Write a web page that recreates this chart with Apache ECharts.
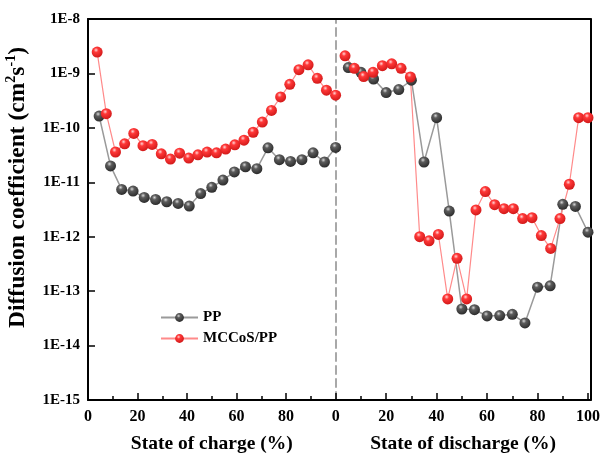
<!DOCTYPE html>
<html>
<head>
<meta charset="utf-8">
<script src="https://cdn.jsdelivr.net/npm/echarts@6/dist/echarts.min.js"></script>
<style>
html, body { margin: 0; padding: 0; background: #fff; }
#chart { width: 603px; height: 459px; }
</style>
</head>
<body>
<div id="chart"></div>
<script>
// Charge branch (state of charge, %)
const chargeMccosX = [3.7, 7.4, 11.1, 14.8, 18.5, 22.2, 25.9, 29.6, 33.3, 37.0, 40.7, 44.4, 48.1, 51.9,
  55.6, 59.3, 63.0, 66.7, 70.4, 74.1, 77.8, 81.5, 85.2, 88.9, 92.6, 96.3, 100];
const chargeMccosD = [2.47e-9, 1.82e-10, 3.6e-11, 5.1e-11, 7.9e-11, 4.7e-11, 4.96e-11, 3.34e-11, 2.67e-11,
  3.43e-11, 2.79e-11, 3.2e-11, 3.59e-11, 3.48e-11, 4.07e-11, 4.88e-11, 5.94e-11, 8.3e-11, 1.28e-10,
  2.09e-10, 3.7e-10, 6.3e-10, 1.17e-9, 1.44e-9, 8.15e-10, 4.92e-10, 3.98e-10];
const chargePpX = [4.5, 9.1, 13.6, 18.2, 22.7, 27.3, 31.8, 36.4, 40.9, 45.5, 50, 54.5, 59.1, 63.6,
  68.2, 72.7, 77.3, 81.8, 86.4, 90.9, 95.5, 100];
const chargePpD = [1.65e-10, 2.0e-11, 7.4e-12, 6.9e-12, 5.26e-12, 4.83e-12, 4.39e-12, 4.08e-12, 3.66e-12,
  6.2e-12, 8.1e-12, 1.1e-11, 1.55e-11, 1.93e-11, 1.78e-11, 4.3e-11, 2.6e-11, 2.42e-11, 2.6e-11,
  3.48e-11, 2.36e-11, 4.37e-11];

// Discharge branch (state of discharge, %)
const dischargeMccosX = [3.7, 7.4, 11.1, 14.8, 18.5, 22.2, 25.9, 29.6, 33.3, 37.0, 40.7, 44.4, 48.1, 51.9,
  55.6, 59.3, 63.0, 66.7, 70.4, 74.1, 77.8, 81.5, 85.2, 88.9, 92.6, 96.3, 100];
const dischargeMccosD = [2.11e-9, 1.24e-9, 8.74e-10, 1.05e-9, 1.39e-9, 1.5e-9, 1.24e-9, 8.6e-10, 1.0e-12,
  8.4e-13, 1.1e-12, 7.2e-14, 4.0e-13, 7.2e-14, 3.1e-12, 6.76e-12, 3.87e-12, 3.28e-12, 3.28e-12,
  2.15e-12, 2.24e-12, 1.05e-12, 6.1e-13, 2.15e-12, 9.2e-12, 1.54e-10, 1.54e-10];
const dischargePpX = [5, 10, 15, 20, 25, 30, 35, 40, 45, 50, 55, 60, 65, 70, 75, 80, 85, 90, 95, 100];
const dischargePpD = [1.28e-9, 1.05e-9, 7.9e-10, 4.45e-10, 5.06e-10, 7.5e-10, 2.36e-11, 1.54e-10, 2.96e-12,
  4.7e-14, 4.56e-14, 3.5e-14, 3.55e-14, 3.76e-14, 2.6e-14, 1.18e-13, 1.25e-13, 3.93e-12, 3.6e-12, 1.21e-12];

const seriesNames = ['PP', 'MCCoS/PP'];
const xTitles = ['State of charge (%)', 'State of discharge (%)'];

const FONT = "'Liberation Serif', 'Times New Roman', serif";
const pair = (xs, ys) => xs.map((x, i) => [x, ys[i]]);

// Shaded ball markers
const ballGray = { type: 'radial', x: 0.4, y: 0.32, r: 0.7,
  colorStops: [{ offset: 0, color: '#d8d8d8' }, { offset: 0.3, color: '#5c5c5c' }, { offset: 1, color: '#2a2a2a' }] };
const ballRed = { type: 'radial', x: 0.4, y: 0.32, r: 0.7,
  colorStops: [{ offset: 0, color: '#ffd6d6' }, { offset: 0.3, color: '#ff3838' }, { offset: 1, color: '#d01818' }] };

function bottomAxis(gi, name, max, showLast) {
  return {
    type: 'value', gridIndex: gi, position: 'bottom', min: 0, max: max, interval: 20,
    name: name, nameLocation: 'middle', nameGap: 34,
    nameTextStyle: { fontFamily: FONT, fontWeight: 'bold', fontSize: 19.5, color: '#000' },
    axisLine: { show: true, onZero: false, lineStyle: { color: '#000', width: 2 } },
    axisTick: { show: true, inside: true, length: 7, lineStyle: { color: '#000', width: 1.5 } },
    minorTick: { show: true, splitNumber: 2, length: 4, lineStyle: { color: '#000', width: 1.5 } },
    axisLabel: { margin: 9, fontFamily: FONT, fontWeight: 'bold', fontSize: 16, color: '#000',
      formatter: v => (v % 20 === 0 && (showLast || v < 100)) ? String(v) : '' },
    splitLine: { show: false }
  };
}
function topAxis(gi, max) {
  return {
    type: 'value', gridIndex: gi, position: 'top', min: 0, max: max,
    axisLine: { show: true, onZero: false, lineStyle: { color: '#000', width: 2 } },
    axisTick: { show: false }, axisLabel: { show: false }, splitLine: { show: false }
  };
}
const logCommon = { type: 'log', logBase: 10, min: 1e-15, max: 1e-8, splitNumber: 7, splitLine: { show: false } };

const option = {
  animation: false,
  backgroundColor: '#fff',
  grid: [
    { left: 88, top: 19, width: 247.6, bottom: 56.3 },
    { left: 335.7, top: 19, right: 11, bottom: 56.3 }
  ],
  xAxis: [
    bottomAxis(0, xTitles[0], 100, false),
    bottomAxis(1, xTitles[1], 101, true),
    topAxis(0, 100),
    topAxis(1, 101)
  ],
  yAxis: [
    Object.assign({}, logCommon, {
      gridIndex: 0, position: 'left',
      name: '{a|Diffusion coefficient (cm}{s|2}{a|s}{s|-1}{a|)}',
      nameLocation: 'middle', nameGap: 56,
      nameTextStyle: {
        padding: [0, 0, 0, 44],
        rich: {
          a: { fontFamily: FONT, fontWeight: 'bold', fontSize: 23.5, color: '#000', lineHeight: 28 },
          s: { fontFamily: FONT, fontWeight: 'bold', fontSize: 14, color: '#000', verticalAlign: 'top', lineHeight: 28 }
        }
      },
      axisLine: { show: true, onZero: false, lineStyle: { color: '#000', width: 2 } },
      axisTick: { show: true, inside: true, length: 7, lineStyle: { color: '#000', width: 1.5 } },
      axisLabel: { margin: 8, fontFamily: FONT, fontWeight: 'bold', fontSize: 15, color: '#000',
        formatter: v => '1E' + Math.round(Math.log10(v)) }
    }),
    // right frame
    Object.assign({}, logCommon, {
      gridIndex: 1, position: 'right',
      axisLine: { show: true, onZero: false, lineStyle: { color: '#000', width: 2 } },
      axisTick: { show: false }, axisLabel: { show: false }
    }),
    // dashed divider between the charge and discharge halves
    Object.assign({}, logCommon, {
      gridIndex: 1, position: 'left',
      axisLine: { show: true, onZero: false, lineStyle: { color: '#a8a8a8', width: 2, type: [8, 5] } },
      axisTick: { show: false }, axisLabel: { show: false }
    })
  ],
  legend: {
    orient: 'vertical', left: 155, top: 305,
    itemWidth: 37, itemHeight: 11, itemGap: 6,
    textStyle: { fontFamily: FONT, fontWeight: 'bold', fontSize: 15, color: '#000' },
    data: seriesNames
  },
  series: [
    {
      name: seriesNames[0], type: 'line', xAxisIndex: 0, yAxisIndex: 0,
      data: pair(chargePpX, chargePpD),
      symbol: 'circle', symbolSize: 11,
      lineStyle: { color: '#9a9a9a', width: 1.5 }, itemStyle: { color: ballGray }
    },
    {
      name: seriesNames[1], type: 'line', xAxisIndex: 0, yAxisIndex: 0,
      data: pair(chargeMccosX, chargeMccosD),
      symbol: 'circle', symbolSize: 11,
      lineStyle: { color: '#ff8a8a', width: 1.2 }, itemStyle: { color: ballRed }
    },
    {
      name: seriesNames[0], type: 'line', xAxisIndex: 1, yAxisIndex: 1,
      data: pair(dischargePpX, dischargePpD),
      symbol: 'circle', symbolSize: 11,
      lineStyle: { color: '#9a9a9a', width: 1.5 }, itemStyle: { color: ballGray }
    },
    {
      name: seriesNames[1], type: 'line', xAxisIndex: 1, yAxisIndex: 1,
      data: pair(dischargeMccosX, dischargeMccosD),
      symbol: 'circle', symbolSize: 11,
      lineStyle: { color: '#ff8a8a', width: 1.2 }, itemStyle: { color: ballRed }
    }
  ]
};

const chart = echarts.init(document.getElementById('chart'), null, { renderer: 'canvas' });
chart.setOption(option);
</script>
</body>
</html>
